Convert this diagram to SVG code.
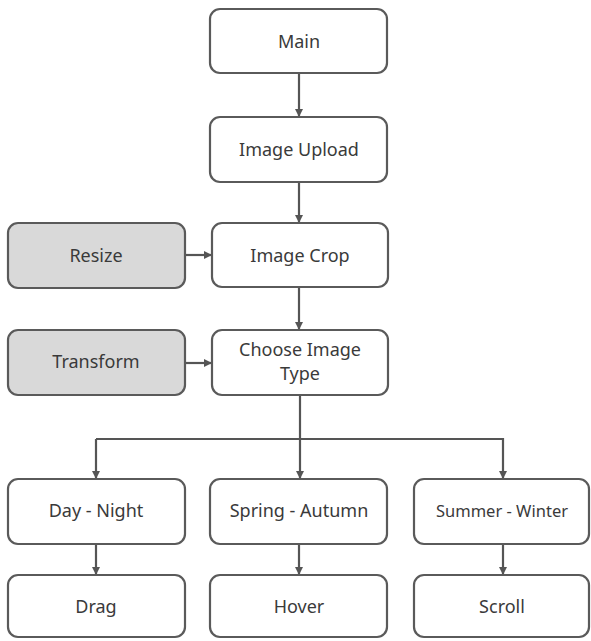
<svg xmlns="http://www.w3.org/2000/svg" width="591" height="641" viewBox="0 0 591 641">
<style>
.box{fill:#fff;stroke:#5a5a5a;stroke-width:2.2}
.gray{fill:#d9d9d9}
text{font-family:"Noto Sans","Open Sans",sans-serif;font-size:18px;fill:#3a3a3a;text-anchor:middle;dominant-baseline:central}
.c{fill:none;stroke:#555;stroke-width:2.2}
</style>
<defs>
<marker id="ah" markerWidth="8" markerHeight="8" refX="7" refY="4" orient="auto" markerUnits="userSpaceOnUse">
<path d="M0,0 L8,4 L0,8 Z" fill="#555"/>
</marker>
</defs>
<rect width="591" height="641" fill="#fff"/>
<g id="connectors">
<path class="c" d="M299,73 V116" marker-end="url(#ah)"/>
<path class="c" d="M299,182 V222" marker-end="url(#ah)"/>
<path class="c" d="M185,255 H211" marker-end="url(#ah)"/>
<path class="c" d="M299,287 V329" marker-end="url(#ah)"/>
<path class="c" d="M185,363 H211" marker-end="url(#ah)"/>
<path class="c" d="M300,395 V478" marker-end="url(#ah)"/>
<path class="c" d="M96,439 H503 V478" marker-end="url(#ah)"/>
<path class="c" d="M96,439 V478" marker-end="url(#ah)"/>
<path class="c" d="M96,544 V574" marker-end="url(#ah)"/>
<path class="c" d="M299,544 V574" marker-end="url(#ah)"/>
<path class="c" d="M503,544 V574" marker-end="url(#ah)"/>
</g>
<g id="main"><rect class="box" x="210" y="9" width="177" height="64" rx="10"/><text x="299" y="41">Main</text></g>
<g id="upload"><rect class="box" x="210" y="117" width="177" height="65" rx="10"/><text x="299" y="149">Image Upload</text></g>
<g id="resize"><rect class="box gray" x="8" y="223" width="177" height="65" rx="10"/><text x="96" y="255">Resize</text></g>
<g id="crop"><rect class="box" x="212" y="223" width="176" height="64" rx="10"/><text x="300" y="255">Image Crop</text></g>
<g id="transform"><rect class="box gray" x="8" y="330" width="177" height="65" rx="10"/><text x="96" y="361">Transform</text></g>
<g id="choose"><rect class="box" x="212" y="330" width="176" height="65" rx="10"/><text x="300" y="349">Choose Image</text><text x="300" y="373">Type</text></g>
<g id="daynight"><rect class="box" x="8" y="479" width="177" height="65" rx="10"/><text x="96" y="510">Day - Night</text></g>
<g id="springautumn"><rect class="box" x="210" y="479" width="177" height="65" rx="10"/><text x="299" y="510">Spring - Autumn</text></g>
<g id="summerwinter"><rect class="box" x="414" y="479" width="175" height="65" rx="10"/><text x="502" y="510" style="font-size:16.5px">Summer - Winter</text></g>
<g id="drag"><rect class="box" x="8" y="575" width="177" height="62" rx="10"/><text x="96" y="606">Drag</text></g>
<g id="hover"><rect class="box" x="210" y="575" width="177" height="62" rx="10"/><text x="299" y="606">Hover</text></g>
<g id="scroll"><rect class="box" x="414" y="575" width="175" height="62" rx="10"/><text x="502" y="606">Scroll</text></g>
</svg>
